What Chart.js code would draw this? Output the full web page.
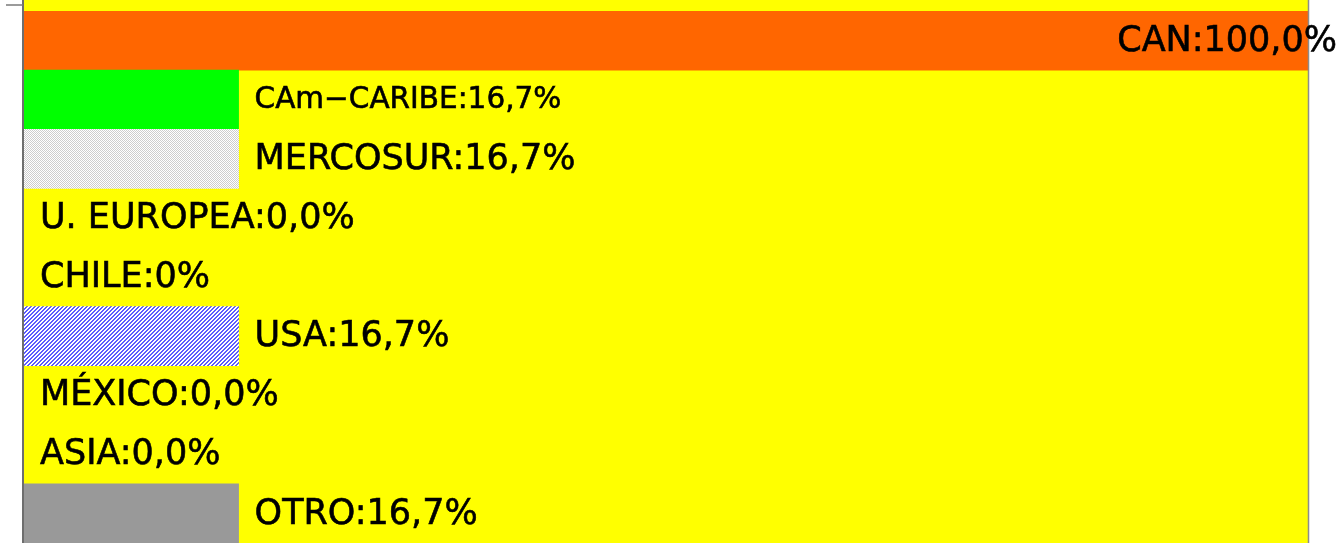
<!DOCTYPE html>
<html>
<head>
<meta charset="utf-8">
<script src="https://cdn.jsdelivr.net/npm/chart.js@4/dist/chart.umd.min.js"></script>
<style>
html,body{margin:0;padding:0;background:#fff;overflow:hidden;}
#wrap{position:relative;width:1340px;height:543px;}
</style>
</head>
<body>
<div id="wrap"><canvas id="c" width="1340" height="543"></canvas></div>
<script>
// ---- data ----
const categories = ["CAN", "CAm\u2212CARIBE", "MERCOSUR", "U. EUROPEA", "CHILE", "USA", "M\u00c9XICO", "ASIA", "OTRO"];
const values = [100.0, 16.7, 16.7, 0.0, 0.0, 16.7, 0.0, 0.0, 16.7];
const valueTexts = ["100,0%", "16,7%", "16,7%", "0,0%", "0%", "16,7%", "0,0%", "0,0%", "16,7%"];
const axisMin = 0;
const axisMax = 100;

// ---- styles ----
function makePattern(draw, size) {
  const p = document.createElement('canvas');
  p.width = size; p.height = size;
  const g = p.getContext('2d');
  draw(g);
  return document.getElementById('c').getContext('2d').createPattern(p, 'repeat');
}
const dotPattern = makePattern(g => {
  g.fillStyle = '#ffffff'; g.fillRect(0, 0, 2, 2);
  g.fillStyle = '#cdcdcd'; g.fillRect(0, 0, 1, 1); g.fillRect(1, 1, 1, 1);
}, 2);
const hatchPattern = makePattern(g => {
  for (let x = 0; x < 4; x++) for (let y = 0; y < 4; y++) {
    g.fillStyle = ((x + y) % 4) < 2 ? '#5c5cff' : '#ffffff';
    g.fillRect(x, y, 1, 1);
  }
}, 4);
const barColors = ['#ff6600', '#00ff00', dotPattern, '#ffff00', '#ffff00', hatchPattern, '#ffff00', '#ffff00', '#999999'];

const bgPlugin = {
  id: 'bg',
  beforeDatasetsDraw(chart) {
    const {ctx, chartArea: a} = chart;
    ctx.save();
    ctx.fillStyle = '#ffff00';
    ctx.fillRect(a.left, 0, a.right - a.left, a.bottom);
    ctx.restore();
  },
  afterDatasetsDraw(chart) {
    const {ctx, chartArea: a} = chart;
    ctx.save();
    ctx.strokeStyle = '#6e6e6e';
    ctx.lineWidth = 2;
    ctx.beginPath(); ctx.moveTo(a.left - 1, 0); ctx.lineTo(a.left - 1, chart.height); ctx.stroke();
    ctx.strokeStyle = '#8c8c8c';
    ctx.lineWidth = 1.5;
    ctx.beginPath(); ctx.moveTo(a.right - 0.5, 0); ctx.lineTo(a.right - 0.5, chart.height); ctx.stroke();
    ctx.strokeStyle = '#7a7a7a';
    ctx.lineWidth = 1.5;
    ctx.beginPath(); ctx.moveTo(a.left - 18, a.top - 6); ctx.lineTo(a.left - 1, a.top - 6); ctx.stroke();
    ctx.restore();
  }
};

const labelPlugin = {
  id: 'barLabels',
  afterDraw(chart, args, opts) {
    const {ctx, chartArea: a} = chart;
    const meta = chart.getDatasetMeta(0);
    ctx.save();
    ctx.fillStyle = '#000';
    ctx.strokeStyle = '#000';
    ctx.lineWidth = 0.6;
    ctx.textBaseline = 'middle';
    meta.data.forEach((el, i) => {
      const size = (opts.sizes && opts.sizes[i]) || opts.size;
      ctx.font = size + 'px "DejaVu Sans"';
      const txt = categories[i] + ':' + valueTexts[i];
      const w = ctx.measureText(txt).width;
      let x = (values[i] > 0 ? el.x : a.left) + opts.gap;
      if (x + w > chart.width - opts.edge) x = chart.width - opts.edge - w;
      ctx.fillText(txt, x, el.y + 1);
      ctx.strokeText(txt, x, el.y + 1);
    });
    ctx.restore();
  }
};

new Chart(document.getElementById('c'), {
  type: 'bar',
  data: {
    labels: categories,
    datasets: [{
      data: values,
      backgroundColor: barColors,
      borderWidth: 0,
      barPercentage: 1,
      categoryPercentage: 1
    }]
  },
  options: {
    indexAxis: 'y',
    responsive: false,
    animation: false,
    layout: {padding: {left: 24, right: 31, top: 11, bottom: 0}},
    plugins: {
      legend: {display: false},
      tooltip: {enabled: false},
      barLabels: {size: 35, sizes: {1: 29.5}, gap: 16, edge: 3}
    },
    scales: {
      x: {display: false, min: axisMin, max: axisMax},
      y: {display: false}
    }
  },
  plugins: [bgPlugin, labelPlugin]
});
</script>
</body>
</html>
